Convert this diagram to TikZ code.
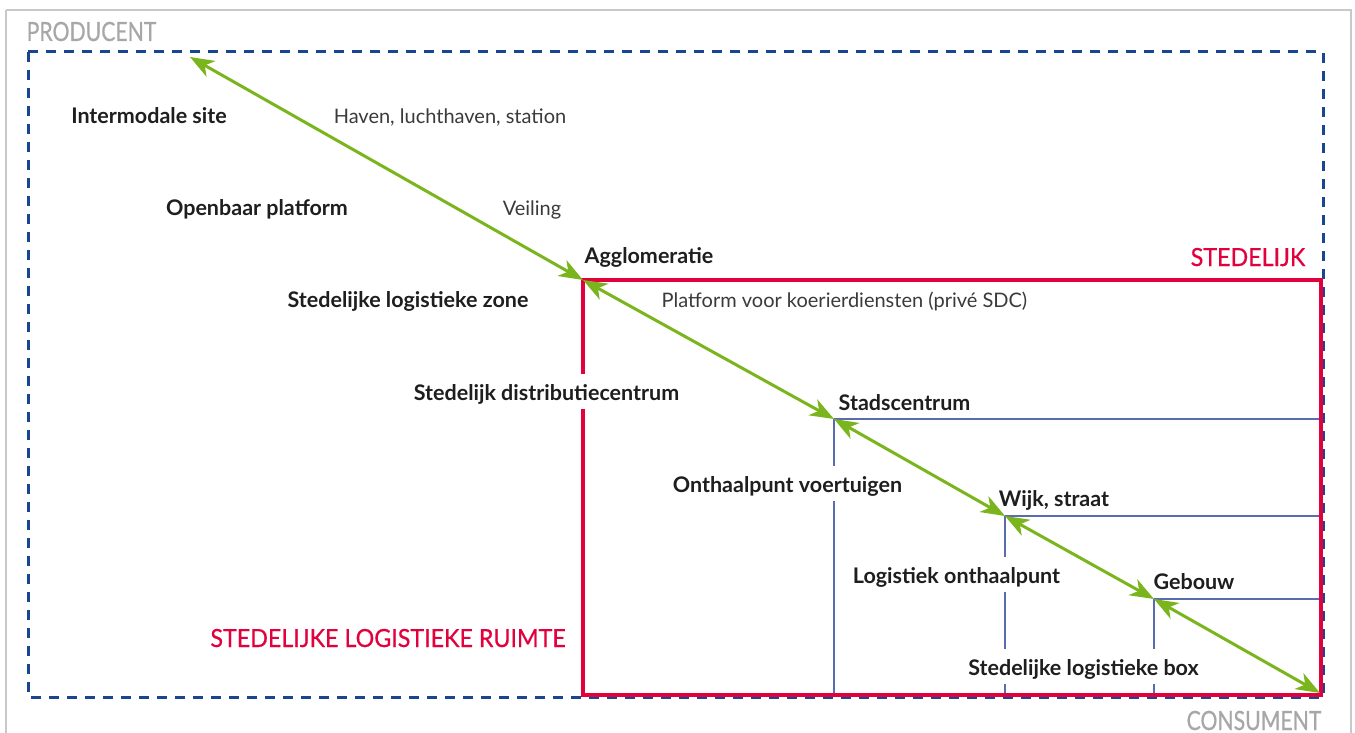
\documentclass[tikz,border=0pt]{standalone}
\usepackage{fontspec}
\setmainfont{Lato}
\newfontfamily\capsgfont[FakeStretch=0.8,FakeBold=0.6]{Lato}
\newfontfamily\capsrfont[FakeStretch=0.93,FakeBold=0.6]{Lato}
\usetikzlibrary{arrows.meta}
\definecolor{lgreen}{HTML}{7AB51D}
\definecolor{sred}{HTML}{E2003D}
\definecolor{dblue}{HTML}{1A4690}
\definecolor{zblue}{HTML}{5A6CB0}
\definecolor{capgray}{HTML}{A9A6A7}
\definecolor{framegray}{HTML}{C8C8C8}
\definecolor{txtdark}{HTML}{1E1E1E}
\definecolor{txtlight}{HTML}{3A3A3A}
\begin{document}
\begin{tikzpicture}[x=1pt,y=-1pt,
  lab/.style={font=\bfseries\fontsize{21.5}{25}\selectfont, text=txtdark, inner sep=0pt, anchor=base},
  lighttxt/.style={font=\fontsize{20}{24}\selectfont, text=txtlight, inner sep=0pt, anchor=base},
  gaplab/.style={lab, fill=white, inner xsep=2pt, inner ysep=4pt, text height=22pt, text depth=5pt},
  capsg/.style={font=\capsgfont\fontsize{26.5}{30}\selectfont, text=capgray, inner sep=0pt, anchor=base},
  capsr/.style={font=\capsrfont\fontsize{25}{29}\selectfont, text=sred, inner sep=0pt, anchor=base},
  flow/.style={draw=lgreen, line width=3pt,
    {Stealth[length=24pt,width=18pt,inset=7pt]}-{Stealth[length=24pt,width=18pt,inset=7pt]}},
  zone/.style={draw=zblue, line width=2.8pt},
]
\useasboundingbox (0,0) rectangle (1355,733);
% outer frame
\draw[framegray, line width=1.5pt] (6,10) -- (1351,10) -- (1351,740);
\draw[framegray, line width=1.5pt] (6,10) -- (6,740);
% producent dashed area
\draw[dblue, line width=3pt, dash pattern=on 10pt off 8pt] (28,52) rectangle (1323,697);
% key points
\coordinate (P) at (190,57);
\coordinate (A) at (583,280);
\coordinate (S) at (834,419);
\coordinate (W) at (1005,516);
\coordinate (G) at (1154,599);
\coordinate (C) at (1320,693);
% zones
\draw[zone] (S) -- (1323,419);
\draw[zone] (S) -- (834,695);
\draw[zone] (W) -- (1323,516);
\draw[zone] (W) -- (1005,695);
\draw[zone] (G) -- (1323,599);
\draw[zone] (G) -- (1154,695);
% stedelijk red box
\draw[sred, line width=4.5pt] (583,280) rectangle (1321,695);
% labels
\node[capsg] (producent) at (91.5,41) {PRODUCENT};
\node[capsg] (consument) at (1254,730) {CONSUMENT};
\node[capsr] (stedelijk) at (1248,266) {STEDELIJK};
\node[capsr] (ruimte) at (388,647) {STEDELIJKE LOGISTIEKE RUIMTE};
\node[lab] (intermodaal) at (149,124) {Intermodale site};
\node[lighttxt] (haven) at (450,124) {Haven, luchthaven, station};
\node[lab] (openbaar) at (257,215) {Openbaar platform};
\node[lighttxt] (veiling) at (532,215) {Veiling};
\node[lab] (agglo) at (649,263) {Agglomeratie};
\node[lab] (slz) at (408,307) {Stedelijke logistieke zone};
\node[lighttxt] (platform) at (844.5,307) {Platform voor koerierdiensten (privé SDC)};
\node[gaplab] (sdc) at (546.5,400) {Stedelijk distributiecentrum};
\node[lab] (stadscentrum) at (904.5,410) {Stadscentrum};
\node[gaplab] (onthaal) at (787.5,492) {Onthaalpunt voertuigen};
\node[lab] (wijk) at (1054,506) {Wijk, straat};
\node[gaplab] (logonthaal) at (956.5,583) {Logistiek onthaalpunt};
\node[lab] (gebouw) at (1194,589) {Gebouw};
\node[gaplab] (box) at (1083.5,675) {Stedelijke logistieke box};
% flows
\draw[flow] (P) -- (A);
\draw[flow] (A) -- (S);
\draw[flow] (S) -- (W);
\draw[flow] (W) -- (G);
\draw[flow] (G) -- (C);
\end{tikzpicture}
\end{document}
